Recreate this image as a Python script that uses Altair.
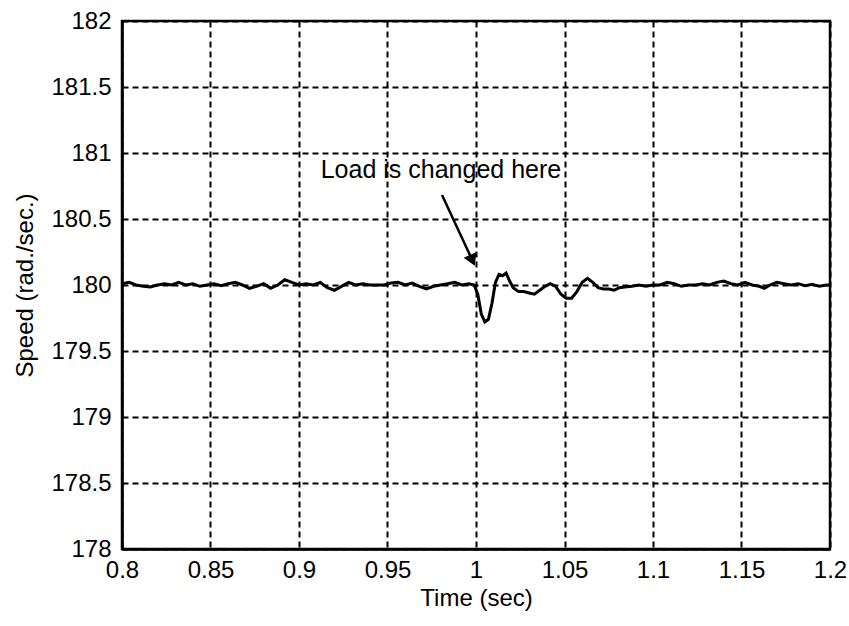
import altair as alt
import pandas as pd

# Speed trace (sec, rad./sec.)
time_s = [0.800, 0.804, 0.808, 0.812, 0.816, 0.820, 0.824, 0.828, 0.832, 0.836,
          0.840, 0.844, 0.848, 0.852, 0.856, 0.860, 0.864, 0.868, 0.872, 0.876,
          0.880, 0.884, 0.888, 0.892, 0.896, 0.900, 0.904, 0.908, 0.912, 0.916,
          0.920, 0.924, 0.928, 0.932, 0.936, 0.940, 0.944, 0.948, 0.952, 0.956,
          0.960, 0.964, 0.968, 0.972, 0.976, 0.980, 0.984, 0.988, 0.992, 0.996,
          0.999, 1.001, 1.003, 1.005, 1.007, 1.009, 1.011, 1.013, 1.015, 1.017,
          1.019, 1.021, 1.024, 1.027, 1.030, 1.033, 1.036, 1.039, 1.042, 1.045,
          1.048, 1.051, 1.054, 1.057, 1.060, 1.063, 1.066, 1.069, 1.072, 1.075,
          1.078, 1.081, 1.084, 1.088, 1.092, 1.096, 1.100, 1.104, 1.108, 1.112,
          1.116, 1.120, 1.124, 1.128, 1.132, 1.136, 1.140, 1.144, 1.148, 1.152,
          1.156, 1.160, 1.163, 1.166, 1.170, 1.174, 1.178, 1.182, 1.186, 1.190,
          1.194, 1.198, 1.200]
speed = [180.01, 180.02, 180.00, 179.99, 179.985, 180.00, 180.01, 180.00, 180.02, 180.00,
         180.01, 179.99, 180.00, 180.01, 179.995, 180.01, 180.02, 180.00, 179.975, 179.99,
         180.01, 179.975, 180.00, 180.04, 180.02, 180.00, 180.01, 180.00, 180.02, 179.98,
         179.96, 179.99, 180.02, 180.00, 180.01, 180.00, 180.00, 180.00, 180.015, 180.02,
         180.00, 180.015, 179.99, 179.97, 179.99, 180.00, 180.01, 180.02, 180.00, 180.01,
         180.00, 179.93, 179.78, 179.72, 179.74, 179.86, 180.02, 180.08, 180.07, 180.09,
         180.03, 179.98, 179.95, 179.95, 179.94, 179.93, 179.96, 179.99, 180.01, 179.99,
         179.93, 179.90, 179.90, 179.95, 180.02, 180.05, 180.02, 179.98, 179.97, 179.97,
         179.96, 179.98, 179.985, 179.99, 180.00, 179.99, 180.00, 180.00, 180.02, 180.01,
         179.99, 180.00, 180.00, 180.01, 180.00, 180.02, 180.03, 180.01, 180.00, 180.02,
         180.00, 179.99, 179.975, 180.00, 180.02, 180.01, 180.00, 180.01, 179.995, 180.005,
         179.99, 180.00, 180.00]

x_ticks = [0.8, 0.85, 0.9, 0.95, 1.0, 1.05, 1.1, 1.15, 1.2]
y_ticks = [178, 178.5, 179, 179.5, 180, 180.5, 181, 181.5, 182]

note_text = ["Load is changed here"]
note_t = [0.9802]
note_v = [180.81]
arrow_t = [0.9808]
arrow_v = [180.682]
arrow_t2 = [0.9975]
arrow_v2 = [180.20]

FONT = "Liberation Sans"

df = pd.DataFrame({"t": time_s, "v": speed})

xs = alt.Scale(domain=[0.8, 1.2], nice=False, zero=False)
ys = alt.Scale(domain=[178, 182], nice=False, zero=False)

line = alt.Chart(df).mark_line(color="black", strokeWidth=3, clip=True).encode(
    x=alt.X("t:Q", scale=xs, title="Time (sec)",
            axis=alt.Axis(values=x_ticks, labelExpr="format(datum.value, '')",
                          grid=True, gridColor="black", gridDash=[6, 4], gridWidth=2,
                          gridOpacity=1, domainColor="black", domainWidth=2.5,
                          ticks=False, labelPadding=9, labelFontSize=24,
                          labelFont=FONT, labelColor="black", titleFont=FONT,
                          titleFontSize=24, titleFontWeight="normal", titleColor="black",
                          titlePadding=4, labelFlush=False)),
    y=alt.Y("v:Q", scale=ys, title="Speed (rad./sec.)",
            axis=alt.Axis(values=y_ticks, labelExpr="format(datum.value, '')",
                          grid=True, gridColor="black", gridDash=[6, 4], gridWidth=2,
                          gridOpacity=1, domainColor="black", domainWidth=2.5,
                          ticks=False, labelPadding=11, labelFontSize=24,
                          labelFont=FONT, labelColor="black", titleFont=FONT,
                          titleFontSize=24, titleFontWeight="normal", titleColor="black",
                          titlePadding=13, labelFlush=False)),
)

note_df = pd.DataFrame({"t": note_t, "v": note_v, "label": note_text})
note = alt.Chart(note_df).mark_text(font=FONT, fontSize=25, align="center",
                                    baseline="alphabetic", color="black").encode(
    x=alt.X("t:Q", scale=xs), y=alt.Y("v:Q", scale=ys), text="label:N")

arrow_df = pd.DataFrame({"t": arrow_t, "v": arrow_v, "t2": arrow_t2, "v2": arrow_v2})
arrow_line = alt.Chart(arrow_df).mark_rule(color="black", strokeWidth=2.5).encode(
    x=alt.X("t:Q", scale=xs), y=alt.Y("v:Q", scale=ys), x2="t2:Q", y2="v2:Q")
arrow_head = alt.Chart(arrow_df).mark_point(shape="triangle", filled=True, color="black",
                                            opacity=1, size=190, angle=156).encode(
    x=alt.X("t2:Q", scale=xs), y=alt.Y("v2:Q", scale=ys))

chart = alt.layer(line, arrow_line, arrow_head, note).properties(
    width=708, height=528,
    autosize=alt.AutoSizeParams(type="none"),
    padding={"left": 122, "top": 21, "right": 19, "bottom": 77},
    background="white",
).configure_view(stroke="black", strokeWidth=2.5)

chart.save("out.html", embed_options={"renderer": "svg", "actions": False})
